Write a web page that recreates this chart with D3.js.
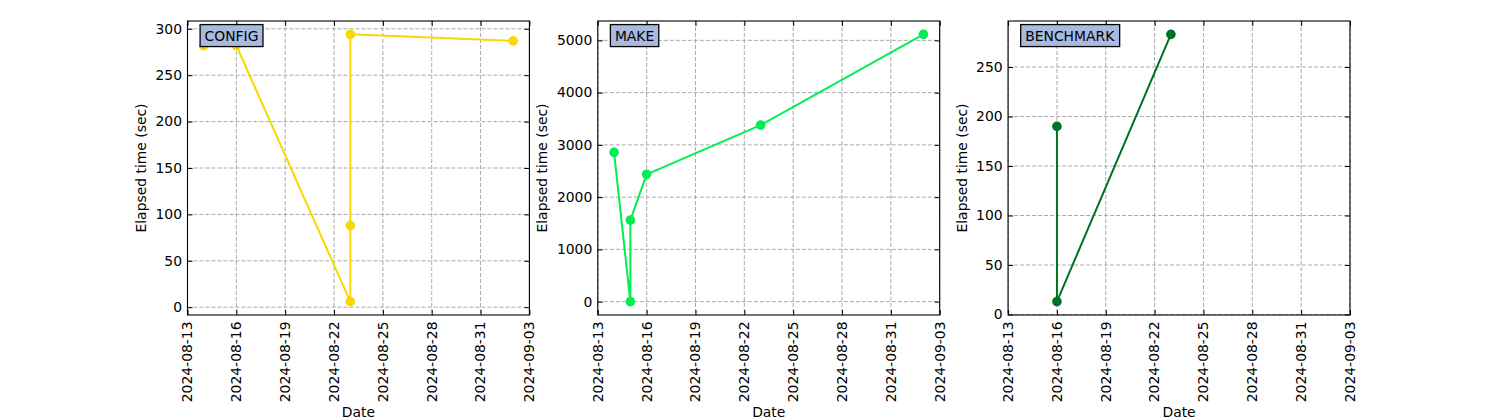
<!DOCTYPE html>
<html>
<head>
<meta charset="utf-8">
<script src="https://cdn.jsdelivr.net/npm/d3@7"></script>
<style>
  html, body { margin: 0; padding: 0; background: #fff; }
  svg { display: block; font-family: "DejaVu Sans", sans-serif; }
</style>
</head>
<body>
<svg id="chart" width="1500" height="420"></svg>
<script>
// ---- data ----
const stageNames = ["CONFIG", "MAKE", "BENCHMARK"];
const configDates = ["2024-08-14", "2024-08-16", "2024-08-23", "2024-08-23", "2024-08-23", "2024-09-02"];
const configValues = [282, 282, 6, 88, 294, 287];
const makeDates = ["2024-08-14", "2024-08-15", "2024-08-15", "2024-08-16", "2024-08-23", "2024-09-02"];
const makeValues = [2857, 0, 1559, 2437, 3378, 5115];
const benchDates = ["2024-08-16", "2024-08-16", "2024-08-23"];
const benchValues = [190, 13, 283];
const configTicks = [0, 50, 100, 150, 200, 250, 300];
const makeTicks = [0, 1000, 2000, 3000, 4000, 5000];
const benchTicks = [0, 50, 100, 150, 200, 250];
const xStart = "2024-08-13";
const xEnd = "2024-09-03";
const xTickLabels = ["2024-08-13", "2024-08-16", "2024-08-19", "2024-08-22", "2024-08-25", "2024-08-28", "2024-08-31", "2024-09-03"];
const xLabel = "Date";
const yLabel = "Elapsed time (sec)";

// ---- style ----
const lineColors = ["#f7d900", "#00ee52", "#007022"];
const boxFill = "#a9b9df";
const FS = 13.9;

const parse = d3.utcParse("%Y-%m-%d");
const panels = [
  { name: stageNames[0], dates: configDates, values: configValues, ticks: configTicks },
  { name: stageNames[1], dates: makeDates, values: makeValues, ticks: makeTicks },
  { name: stageNames[2], dates: benchDates, values: benchValues, ticks: benchTicks }
];

const svg = d3.select("#chart");
const figW = 1500;
const plotLeft = 0.125 * figW, plotRight = 0.9 * figW;
const plotTop = 21, plotBottom = 315;
const wspace = 0.2;
const axW = (plotRight - plotLeft) / (3 + 2 * wspace);
const gapW = axW * wspace;

panels.forEach((p, i) => {
  const x0 = plotLeft + i * (axW + gapW);
  const g = svg.append("g").attr("transform", `translate(${x0},0)`);
  const x = d3.scaleUtc().domain([parse(xStart), parse(xEnd)]).range([0, axW]);
  const lo = d3.min(p.values), hi = d3.max(p.values);
  const m = (hi - lo) * 0.05;
  const y = d3.scaleLinear().domain([lo - m, hi + m]).range([plotBottom, plotTop]);
  const xt = xTickLabels.map(parse);

  // grid
  const gridStyle = sel => sel.attr("stroke", "#aaaaaa").attr("stroke-width", 1).attr("stroke-dasharray", "4,2");
  g.append("g").selectAll("line").data(xt).join("line")
    .attr("x1", d => x(d)).attr("x2", d => x(d))
    .attr("y1", plotTop).attr("y2", plotBottom).call(gridStyle);
  g.append("g").selectAll("line").data(p.ticks).join("line")
    .attr("x1", 0).attr("x2", axW)
    .attr("y1", d => y(d)).attr("y2", d => y(d)).call(gridStyle);

  // series
  const pts = p.dates.map((d, k) => ({ d: parse(d), v: p.values[k] }));
  const line = d3.line().x(d => x(d.d)).y(d => y(d.v));
  g.append("path").datum(pts).attr("d", line)
    .attr("fill", "none").attr("stroke", lineColors[i]).attr("stroke-width", 2)
    .attr("stroke-linejoin", "round");
  g.append("g").selectAll("circle").data(pts).join("circle")
    .attr("cx", d => x(d.d)).attr("cy", d => y(d.v)).attr("r", 4.8)
    .attr("fill", lineColors[i]);

  // axes (ticks inward, all sides)
  const axB = d3.axisBottom(x).tickValues(xt).tickSizeInner(-5).tickSizeOuter(0).tickFormat("");
  const axT = d3.axisTop(x).tickValues(xt).tickSizeInner(-5).tickSizeOuter(0).tickFormat("");
  const axL = d3.axisLeft(y).tickValues(p.ticks).tickSizeInner(-5).tickSizeOuter(0).tickFormat("");
  const axR = d3.axisRight(y).tickValues(p.ticks).tickSizeInner(-5).tickSizeOuter(0).tickFormat("");
  [[axB, `translate(0,${plotBottom})`], [axT, `translate(0,${plotTop})`], [axL, "translate(0,0)"], [axR, `translate(${axW},0)`]]
    .forEach(([a, t]) => {
      const ag = g.append("g").attr("transform", t).call(a);
      ag.select(".domain").remove();
      ag.selectAll("line").attr("stroke", "#000").attr("stroke-width", 1);
    });
  g.append("rect").attr("x", 0).attr("y", plotTop).attr("width", axW).attr("height", plotBottom - plotTop)
    .attr("fill", "none").attr("stroke", "#000").attr("stroke-width", 1.1);

  // y tick labels
  const yl = g.append("g");
  yl.selectAll("text").data(p.ticks).join("text")
    .attr("x", -5.5).attr("y", d => y(d)).attr("dy", "0.35em")
    .attr("text-anchor", "end").attr("font-size", FS).attr("fill", "#000")
    .text(d => d);
  const bb = yl.node().getBBox();

  // x tick labels
  g.append("g").selectAll("text").data(xt).join("text")
    .attr("transform", d => `translate(${x(d)},${plotBottom + 6.5}) rotate(-90)`)
    .attr("text-anchor", "end").attr("dy", "0.35em")
    .attr("font-size", FS).attr("fill", "#000")
    .text((d, k) => xTickLabels[k]);

  // axis labels
  g.append("text").attr("x", axW / 2).attr("y", 416.5).attr("text-anchor", "middle")
    .attr("font-size", FS).attr("fill", "#000").text(xLabel);
  g.append("text")
    .attr("transform", `translate(${bb.x - 9.5},${(plotTop + plotBottom) / 2}) rotate(-90)`)
    .attr("text-anchor", "middle").attr("font-size", FS).attr("fill", "#000").text(yLabel);

  // title box
  const tg = g.append("g");
  const tt = tg.append("text").attr("x", 0.05 * axW).attr("y", plotTop + 0.05 * (plotBottom - plotTop))
    .attr("dy", "0.35em").attr("font-size", FS).attr("fill", "#000").text(p.name);
  const tb = tt.node().getBBox();
  tg.insert("rect", "text")
    .attr("x", tb.x - 4.5).attr("y", tb.y - 3).attr("width", tb.width + 9).attr("height", tb.height + 6)
    .attr("fill", boxFill).attr("stroke", "#000").attr("stroke-width", 1.3);
});
</script>
</body>
</html>
